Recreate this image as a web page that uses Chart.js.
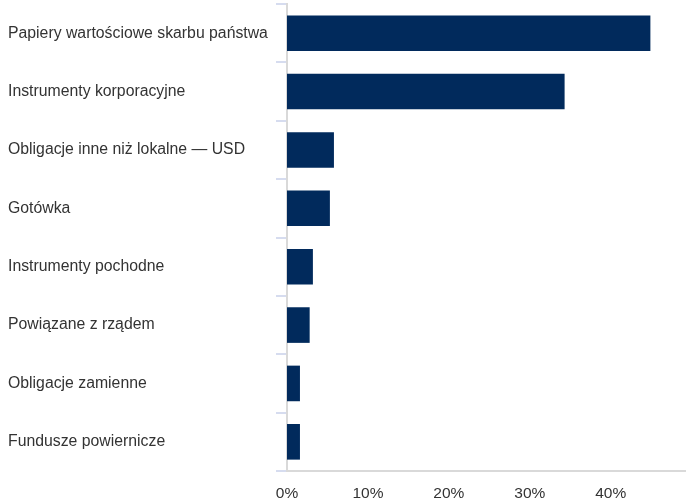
<!DOCTYPE html>
<html>
<head>
<meta charset="utf-8">
<script src="https://cdn.jsdelivr.net/npm/chart.js@4"></script>
<style>
  html, body { margin: 0; padding: 0; background: #fff; }
  #wrap { width: 686px; height: 501px; }
</style>
</head>
<body>
<div id="wrap"><canvas id="myChart"></canvas></div>
<script>
const categories = [
    'Papiery wartościowe skarbu państwa',
    'Instrumenty korporacyjne',
    'Obligacje inne niż lokalne — USD',
    'Gotówka',
    'Instrumenty pochodne',
    'Powiązane z rządem',
    'Obligacje zamienne',
    'Fundusze powiernicze'
];
const shares = [44.9, 34.3, 5.8, 5.3, 3.2, 2.8, 1.6, 1.6];
const tickValues = [0, 10, 20, 30, 40];

const ctx = document.getElementById('myChart').getContext('2d');

const myChart = new Chart(ctx, {
    type: 'bar',
    data: {
        labels: categories,
        datasets: [
            {
                data: shares,
                backgroundColor: '#012a5c',
                borderWidth: 0,
                barPercentage: 0.61,
                categoryPercentage: 1
            }
        ]
    },
    options: {
        indexAxis: 'y',
        responsive: true,
        maintainAspectRatio: false,
        animation: false,
        layout: { padding: { left: 8, top: 4, right: 0, bottom: 0 } },
        plugins: {
            legend: { display: false },
            tooltip: { enabled: false }
        },
        scales: {
            x: {
                min: 0,
                max: 49.3,
                afterBuildTicks: (scale) => {
                    scale.ticks = tickValues.map(v => ({ value: v }));
                },
                afterFit: (scale) => { scale.height = 30; },
                ticks: {
                    callback: (v) => v + '%',
                    color: '#333',
                    padding: 5,
                    maxRotation: 0,
                    font: { family: 'Liberation Sans, Arial', size: 15.5 }
                },
                grid: { display: false },
                border: { display: true, color: '#d9d9d9', width: 2 }
            },
            y: {
                afterFit: (scale) => {
                    scale.width = 279;
                    scale.paddingTop = 0;
                    scale.paddingBottom = 0;
                },
                ticks: {
                    crossAlign: 'far',
                    color: '#333',
                    font: { family: 'Liberation Sans, Arial', size: 15.8 }
                },
                grid: {
                    drawOnChartArea: false,
                    drawTicks: true,
                    tickLength: 11,
                    offset: true,
                    color: '#d6dcef',
                    lineWidth: 2
                },
                border: { display: true, color: '#d9d9d9', width: 2 }
            }
        }
    }
});
</script>
</body>
</html>
